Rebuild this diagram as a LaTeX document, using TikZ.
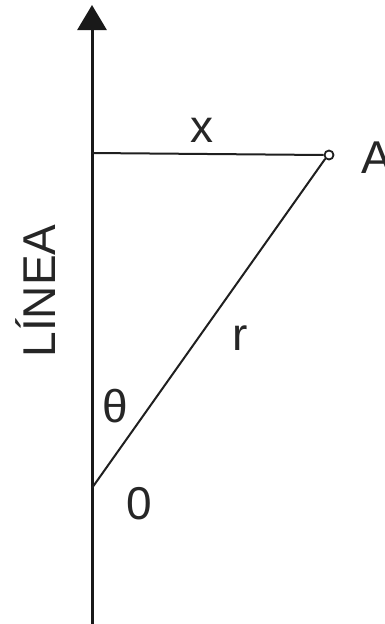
\documentclass[tikz,border=0pt]{standalone}
\usepackage{fontspec}
\setmainfont{Liberation Sans}
\usetikzlibrary{arrows.meta}
\begin{document}
\begin{tikzpicture}[x=1pt,y=-1pt,
  lbl/.style={font=\fontsize{46}{50}\selectfont, text=black!85, inner sep=0pt},
  ln/.style={line width=2pt, draw=black!88}]
\useasboundingbox (0,0) rectangle (385,624);
\coordinate (bot) at (92,630);
\coordinate (top) at (92,5);
\coordinate (O) at (92,488);
\coordinate (H) at (92,153);
\node[circle, draw=black!88, line width=1.8pt, minimum size=9pt, inner sep=0pt] (A) at (329,155) {};
\draw[line width=3pt, draw=black!90, -{Triangle[length=25pt,width=29pt]}] (bot) -- (top);
\draw[ln] (H) -- (A.west);
\draw[ln] (O) -- (A.south west);
\node[lbl] (xl) at (202,130) {x};
\node[lbl] (rl) at (240,338) {r};
\node[lbl] (th) at (115,406) {θ};
\node[lbl] (zero) at (139,504) {0};
\node[lbl, anchor=west] (Al) at (361,158) {A};
\node[lbl, rotate=90] (linea) at (36,291) {LÍNEA};
\end{tikzpicture}
\end{document}
